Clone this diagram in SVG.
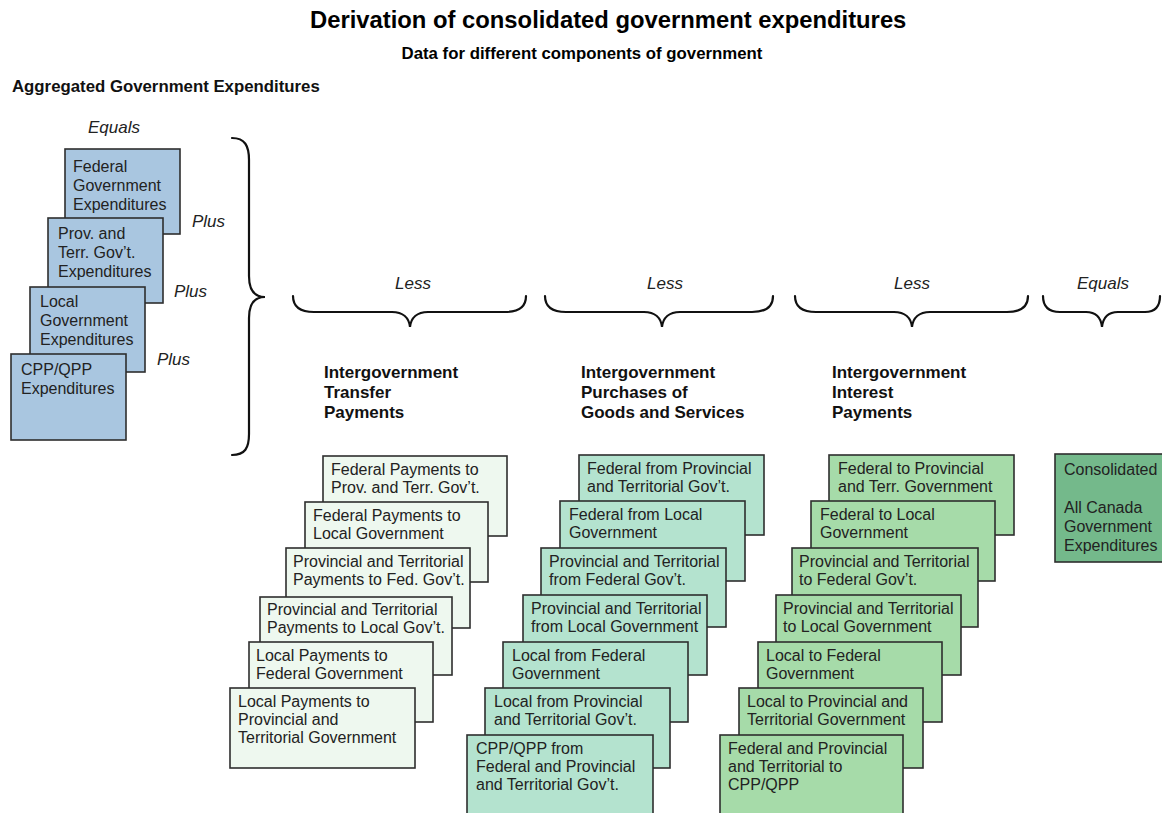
<svg xmlns="http://www.w3.org/2000/svg" width="1162" height="813" viewBox="0 0 1162 813">
  <style>
    text { font-family: "Liberation Sans", Arial, Helvetica, sans-serif; fill: #1a1a1a; }
    .title { font-size: 23.8px; font-weight: bold; fill: #000; }
    .subtitle { font-size: 16.8px; font-weight: bold; fill: #000; }
    .head { font-size: 16.8px; font-weight: bold; fill: #111; }
    .hdr { font-size: 17px; font-weight: bold; fill: #111; }
    .op { font-size: 17px; font-style: italic; fill: #222; }
    .lbl { font-size: 16px; fill: #222; }
    .box { stroke: #2e2e2e; stroke-width: 1.6; }
    .agg { fill: #a9c6e0; }
    .transfer { fill: #eef8ef; }
    .purchase { fill: #b4e3cf; }
    .interest { fill: #a6dba9; }
    .total { fill: #74b98b; }
    .brace { fill: none; stroke: #111; stroke-width: 2.2; stroke-linecap: round; }
  </style>

  <!-- Titles -->
  <text class="title" x="310" y="28">Derivation of consolidated government expenditures</text>
  <text class="subtitle" x="582" y="59" text-anchor="middle">Data for different components of government</text>
  <text class="head" x="12" y="92">Aggregated Government Expenditures</text>

  <!-- Operator labels -->
  <g id="operators">
    <text class="op" x="88" y="133">Equals</text>
    <text class="op" x="192" y="227">Plus</text>
    <text class="op" x="174" y="297">Plus</text>
    <text class="op" x="157" y="365">Plus</text>
    <text class="op" x="413" y="289" text-anchor="middle">Less</text>
    <text class="op" x="665" y="289" text-anchor="middle">Less</text>
    <text class="op" x="912" y="289" text-anchor="middle">Less</text>
    <text class="op" x="1103" y="289" text-anchor="middle">Equals</text>
  </g>

  <!-- Braces -->
  <g id="connectors">
    <path class="brace" d="M232,138 C245,138 249,146 249,160 L249,276 C249,290 254,297 265,297 C254,297 249,304 249,318 L249,434 C249,448 245,455 232,455"/>
    <path class="brace" d="M293,296 C293,307 300,312 314,312 L392,312 C403,312 409,318 410,327 C411,318 417,312 428,312 L505,312 C519,312 526,307 526,296"/>
    <path class="brace" d="M545,296 C545,307 552,312 566,312 L644,312 C655,312 661,318 662,327 C663,318 669,312 680,312 L752,312 C766,312 773,307 773,296"/>
    <path class="brace" d="M795,296 C795,307 802,312 816,312 L894,312 C905,312 911,318 912,327 C913,318 919,312 930,312 L1007,312 C1021,312 1028,307 1028,296"/>
    <path class="brace" d="M1043,296 C1043,307 1049,312 1060,312 L1086,312 C1096,312 1101,318 1102,327 C1103,318 1108,312 1118,312 L1145,312 C1155,312 1160,307 1160,296"/>
  </g>

  <!-- Aggregated expenditures -->
  <g id="agg-federal">
    <rect class="box agg" x="65" y="149" width="115" height="85"/>
    <text class="lbl" x="73" y="172">Federal</text>
    <text class="lbl" x="73" y="191">Government</text>
    <text class="lbl" x="73" y="210">Expenditures</text>
  </g>
  <g id="agg-provincial">
    <rect class="box agg" x="48" y="218" width="115" height="85"/>
    <text class="lbl" x="58" y="239">Prov. and</text>
    <text class="lbl" x="58" y="258">Terr. Gov’t.</text>
    <text class="lbl" x="58" y="277">Expenditures</text>
  </g>
  <g id="agg-local">
    <rect class="box agg" x="30" y="287" width="115" height="85"/>
    <text class="lbl" x="40" y="307">Local</text>
    <text class="lbl" x="40" y="326">Government</text>
    <text class="lbl" x="40" y="345">Expenditures</text>
  </g>
  <g id="agg-cpp">
    <rect class="box agg" x="11" y="354" width="115" height="86"/>
    <text class="lbl" x="21" y="375">CPP/QPP</text>
    <text class="lbl" x="21" y="394">Expenditures</text>
  </g>

  <!-- Column headings -->
  <g id="heading-transfer">
    <text class="hdr" x="324" y="378">Intergovernment</text>
    <text class="hdr" x="324" y="398">Transfer</text>
    <text class="hdr" x="324" y="418">Payments</text>
  </g>
  <g id="heading-purchase">
    <text class="hdr" x="581" y="378">Intergovernment</text>
    <text class="hdr" x="581" y="398">Purchases of</text>
    <text class="hdr" x="581" y="418">Goods and Services</text>
  </g>
  <g id="heading-interest">
    <text class="hdr" x="832" y="378">Intergovernment</text>
    <text class="hdr" x="832" y="398">Interest</text>
    <text class="hdr" x="832" y="418">Payments</text>
  </g>

  <!-- Transfer payments stack -->
  <g id="tr-1">
    <rect class="box transfer" x="323" y="456" width="184" height="80"/>
    <text class="lbl" x="331" y="475">Federal Payments to</text>
    <text class="lbl" x="331" y="493">Prov. and Terr. Gov’t.</text>
  </g>
  <g id="tr-2">
    <rect class="box transfer" x="305" y="502" width="183" height="80"/>
    <text class="lbl" x="313" y="521">Federal Payments to</text>
    <text class="lbl" x="313" y="539">Local Government</text>
  </g>
  <g id="tr-3">
    <rect class="box transfer" x="286" y="548" width="184" height="80"/>
    <text class="lbl" x="293" y="567">Provincial and Territorial</text>
    <text class="lbl" x="293" y="585">Payments to Fed. Gov’t.</text>
  </g>
  <g id="tr-4">
    <rect class="box transfer" x="260" y="597" width="192" height="78"/>
    <text class="lbl" x="267" y="615">Provincial and Territorial</text>
    <text class="lbl" x="267" y="633">Payments to Local Gov’t.</text>
  </g>
  <g id="tr-5">
    <rect class="box transfer" x="249" y="642" width="184" height="80"/>
    <text class="lbl" x="256" y="661">Local Payments to</text>
    <text class="lbl" x="256" y="679">Federal Government</text>
  </g>
  <g id="tr-6">
    <rect class="box transfer" x="230" y="688" width="185" height="80"/>
    <text class="lbl" x="238" y="707">Local Payments to</text>
    <text class="lbl" x="238" y="725">Provincial and</text>
    <text class="lbl" x="238" y="743">Territorial Government</text>
  </g>

  <!-- Purchases of goods and services stack -->
  <g id="pu-1">
    <rect class="box purchase" x="579" y="455" width="185" height="80"/>
    <text class="lbl" x="587" y="474">Federal from Provincial</text>
    <text class="lbl" x="587" y="492">and Territorial Gov’t.</text>
  </g>
  <g id="pu-2">
    <rect class="box purchase" x="560" y="501" width="185" height="80"/>
    <text class="lbl" x="569" y="520">Federal from Local</text>
    <text class="lbl" x="569" y="538">Government</text>
  </g>
  <g id="pu-3">
    <rect class="box purchase" x="541" y="548" width="185" height="79"/>
    <text class="lbl" x="549" y="567">Provincial and Territorial</text>
    <text class="lbl" x="549" y="585">from Federal Gov’t.</text>
  </g>
  <g id="pu-4">
    <rect class="box purchase" x="523" y="595" width="184" height="80"/>
    <text class="lbl" x="531" y="614">Provincial and Territorial</text>
    <text class="lbl" x="531" y="632">from Local Government</text>
  </g>
  <g id="pu-5">
    <rect class="box purchase" x="503" y="642" width="185" height="80"/>
    <text class="lbl" x="512" y="661">Local from Federal</text>
    <text class="lbl" x="512" y="679">Government</text>
  </g>
  <g id="pu-6">
    <rect class="box purchase" x="485" y="688" width="185" height="80"/>
    <text class="lbl" x="494" y="707">Local from Provincial</text>
    <text class="lbl" x="494" y="725">and Territorial Gov’t.</text>
  </g>
  <g id="pu-7">
    <rect class="box purchase" x="467" y="735" width="186" height="82"/>
    <text class="lbl" x="476" y="754">CPP/QPP from</text>
    <text class="lbl" x="476" y="772">Federal and Provincial</text>
    <text class="lbl" x="476" y="790">and Territorial Gov’t.</text>
  </g>

  <!-- Interest payments stack -->
  <g id="in-1">
    <rect class="box interest" x="829" y="455" width="185" height="80"/>
    <text class="lbl" x="838" y="474">Federal to Provincial</text>
    <text class="lbl" x="838" y="492">and Terr. Government</text>
  </g>
  <g id="in-2">
    <rect class="box interest" x="811" y="501" width="184" height="80"/>
    <text class="lbl" x="820" y="520">Federal to Local</text>
    <text class="lbl" x="820" y="538">Government</text>
  </g>
  <g id="in-3">
    <rect class="box interest" x="792" y="548" width="186" height="79"/>
    <text class="lbl" x="799" y="567">Provincial and Territorial</text>
    <text class="lbl" x="799" y="585">to Federal Gov’t.</text>
  </g>
  <g id="in-4">
    <rect class="box interest" x="776" y="595" width="185" height="80"/>
    <text class="lbl" x="783" y="614">Provincial and Territorial</text>
    <text class="lbl" x="783" y="632">to Local Government</text>
  </g>
  <g id="in-5">
    <rect class="box interest" x="758" y="642" width="184" height="80"/>
    <text class="lbl" x="766" y="661">Local to Federal</text>
    <text class="lbl" x="766" y="679">Government</text>
  </g>
  <g id="in-6">
    <rect class="box interest" x="739" y="688" width="184" height="80"/>
    <text class="lbl" x="747" y="707">Local to Provincial and</text>
    <text class="lbl" x="747" y="725">Territorial Government</text>
  </g>
  <g id="in-7">
    <rect class="box interest" x="720" y="735" width="183" height="82"/>
    <text class="lbl" x="728" y="754">Federal and Provincial</text>
    <text class="lbl" x="728" y="772">and Territorial to</text>
    <text class="lbl" x="728" y="790">CPP/QPP</text>
  </g>

  <!-- Consolidated result -->
  <g id="consolidated">
    <rect class="box total" x="1055" y="454" width="120" height="108"/>
    <text class="lbl" x="1064" y="475">Consolidated</text>
    <text class="lbl" x="1064" y="513">All Canada</text>
    <text class="lbl" x="1064" y="532">Government</text>
    <text class="lbl" x="1064" y="551">Expenditures</text>
  </g>
</svg>
